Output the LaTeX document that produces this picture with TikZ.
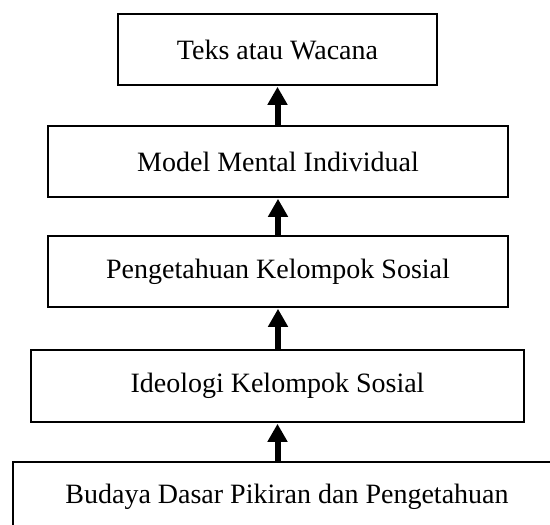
\documentclass[tikz,border=0pt]{standalone}
\usepackage{fontspec}
\setmainfont{Liberation Serif}
\usetikzlibrary{arrows.meta}
\tikzset{
  box/.style={draw=black, line width=1.8pt, rectangle, inner sep=0pt, font=\fontsize{28}{34}\selectfont},
  up/.style={line width=6pt, -{Triangle[width=19pt,length=18pt]}, shorten >=0.9pt}
}
\begin{document}
\begin{tikzpicture}[x=1pt,y=-1pt]
\useasboundingbox (0,0) rectangle (550,525);
\clip (0,0) rectangle (550,525);
\node[box, minimum width=319pt, minimum height=71pt] (b1) at (277.5,49.5) {Teks atau Wacana};
\node[box, minimum width=460pt, minimum height=71pt] (b2) at (278,161.5) {Model Mental Individual};
\node[box, minimum width=460pt, minimum height=71pt] (b3) at (278,271.5) {Pengetahuan Kelompok Sosial};
\node[box, minimum width=493pt, minimum height=72pt] (b4) at (277.5,386) {Ideologi Kelompok Sosial};
\node[box, minimum width=548pt, minimum height=70pt] (b5) at (287,497) {Budaya Dasar Pikiran dan Pengetahuan};
\draw[up] (b2.north -| b1.south) -- (b1.south);
\draw[up] (b3.north) -- (b2.south);
\draw[up] (b4.north -| b3.south) -- (b3.south);
\draw[up] (b5.north -| b4.south) -- (b4.south);
\end{tikzpicture}
\end{document}
